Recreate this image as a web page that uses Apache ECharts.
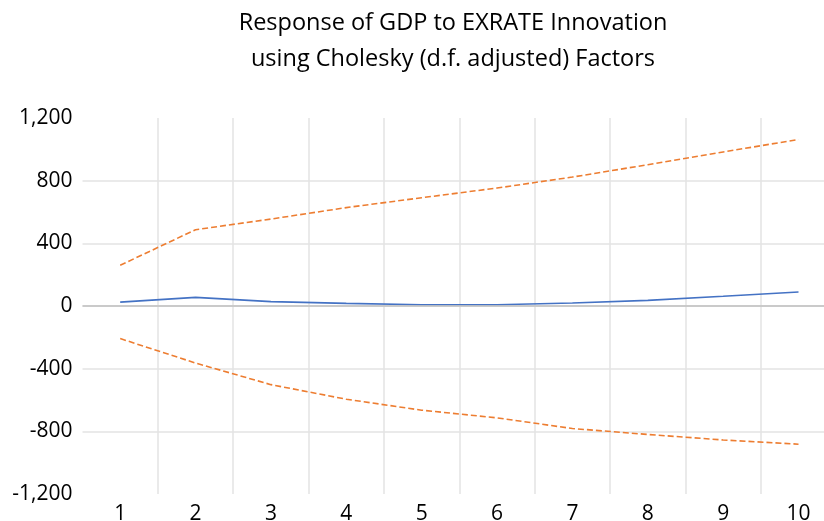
<!DOCTYPE html>
<html>
<head>
<meta charset="utf-8">
<script src="https://cdn.jsdelivr.net/npm/echarts@6/dist/echarts.min.js"></script>
<style>
html,body{margin:0;padding:0;background:#fff;overflow:hidden;}
#chart{width:824px;height:521px;}
</style>
</head>
<body>
<div id="chart"></div>
<script>
const titleLines = ['Response of GDP to EXRATE Innovation', 'using Cholesky (d.f. adjusted) Factors'];
const periods = ['1','2','3','4','5','6','7','8','9','10'];
const response = [25, 55, 28, 17, 8, 8, 19, 36, 62, 89];
const upperBand = [260, 487, 555, 628, 691, 753, 823, 902, 983, 1063];
const lowerBand = [-208, -364, -502, -595, -665, -714, -782, -820, -855, -882];
const yTicks = { min: -1200, max: 1200, interval: 400 };

const FONT = 'Open Sans';
const chart = echarts.init(document.getElementById('chart'), null, { renderer: 'canvas' });
chart.setOption({
  backgroundColor: '#fff',
  animation: false,
  title: {
    text: titleLines.join('\n'),
    left: 448, top: 0, textAlign: 'center',
    textStyle: { fontFamily: FONT, fontSize: 23.5, fontWeight: 'normal', color: '#000', lineHeight: 36 }
  },
  grid: { left: 82.5, top: 118, height: 376, width: 753.7, containLabel: false, outerBoundsMode: 'none' },
  xAxis: {
    type: 'category', data: periods, boundaryGap: true,
    axisLine: { show: false }, axisTick: { show: false },
    axisLabel: { fontFamily: FONT, fontSize: 21, color: '#000', margin: 10, interval: 0 },
    splitLine: { show: true, interval: 0, showMinLine: false, lineStyle: { color: '#e3e3e3', width: 1.5 } }
  },
  yAxis: {
    type: 'value', min: yTicks.min, max: yTicks.max, interval: yTicks.interval,
    axisLine: { show: false }, axisTick: { show: false },
    axisLabel: { fontFamily: FONT, fontSize: 21, color: '#000', margin: 10,
      formatter: v => v.toLocaleString('en-US') },
    splitLine: { show: true, showMinLine: false, showMaxLine: false, lineStyle: { color: '#e3e3e3', width: 1.5 } }
  },
  series: [
    {
      name: 'Response', type: 'line', data: response, symbol: 'none', z: 3,
      lineStyle: { color: '#4472C4', width: 1.6 },
      markLine: {
        silent: true, symbol: 'none', label: { show: false },
        lineStyle: { color: '#bfbfbf', width: 1.5, type: 'solid' },
        data: [{ yAxis: 0 }]
      }
    },
    {
      name: 'Upper', type: 'line', data: upperBand, symbol: 'none', z: 3,
      lineStyle: { color: '#ED7D31', width: 1.6, type: [6, 3] }
    },
    {
      name: 'Lower', type: 'line', data: lowerBand, symbol: 'none', z: 3,
      lineStyle: { color: '#ED7D31', width: 1.6, type: [6, 3] }
    }
  ]
});
</script>
</body>
</html>
